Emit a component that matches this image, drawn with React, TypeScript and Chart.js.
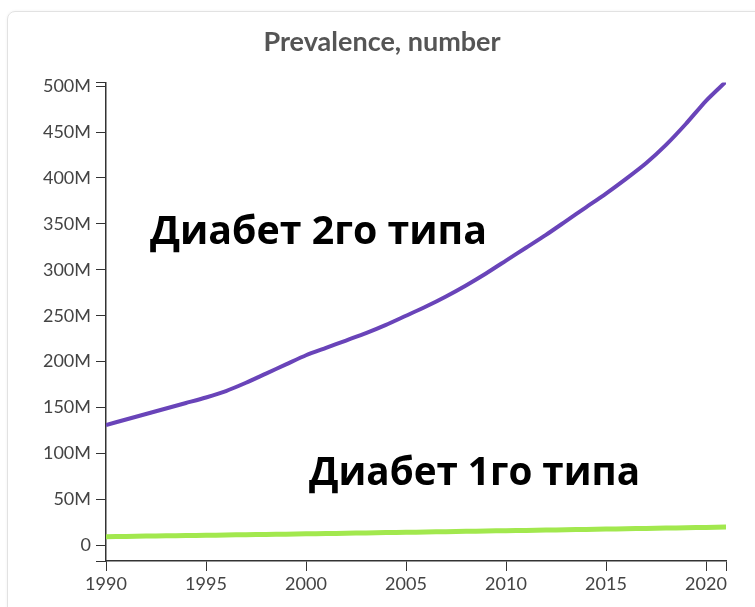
import React, { useEffect, useRef } from "react";
import { Chart, registerables } from "chart.js";

Chart.register(...registerables);

const titleText = "Prevalence, number";
const years = [
  1990, 1991, 1992, 1993, 1994, 1995, 1996, 1997, 1998, 1999, 2000, 2001, 2002, 2003, 2004, 2005,
  2006, 2007, 2008, 2009, 2010, 2011, 2012, 2013, 2014, 2015, 2016, 2017, 2018, 2019, 2020, 2021,
];
// millions
const type2Values = [
  131, 137, 143, 149, 155, 161, 168, 177, 187, 197, 207, 215, 223, 231, 240, 250,
  260, 271, 283, 296, 310, 324, 338, 353, 368, 383, 399, 416, 436, 459, 484, 505,
];
const type1Values = [
  9.5, 9.8, 10.1, 10.4, 10.7, 11.0, 11.3, 11.6, 11.9, 12.2, 12.6, 12.9, 13.2, 13.5, 13.9, 14.2,
  14.6, 14.9, 15.3, 15.6, 16.0, 16.3, 16.7, 17.0, 17.4, 17.7, 18.1, 18.4, 18.8, 19.2, 19.6, 20.0,
];
const yTickValues = [0, 50, 100, 150, 200, 250, 300, 350, 400, 450, 500];
const yTickLabels = ["0", "50M", "100M", "150M", "200M", "250M", "300M", "350M", "400M", "450M", "500M"];
const xTickValues = [1990, 1995, 2000, 2005, 2010, 2015, 2020];
const xTickLabels = ["1990", "1995", "2000", "2005", "2010", "2015", "2020"];
const yMin = -17;
const yMax = 504;
const xMin = 1990;
const xMax = 2021;
const label2 = "Диабет 2го типа";
const label1 = "Диабет 1го типа";

const annotationPlugin = {
  id: "annot",
  afterDatasetsDraw(chart: any) {
    const ctx = chart.ctx;
    const items = [
      { text: label2, left: 150, baseline: 244, width: 337 },
      { text: label1, left: 309, baseline: 485, width: 331 },
    ];
    ctx.save();
    ctx.fillStyle = "#000";
    ctx.textBaseline = "alphabetic";
    ctx.textAlign = "left";
    for (const it of items) {
      ctx.font = "bold 100px 'Open Sans'";
      const w = ctx.measureText(it.text).width;
      const size = (100 * it.width) / w;
      ctx.font = `bold ${size.toFixed(2)}px 'Open Sans'`;
      ctx.fillText(it.text, it.left, it.baseline);
    }
    ctx.restore();
  },
};

export default function App() {
  const ref = useRef<HTMLCanvasElement | null>(null);
  useEffect(() => {
    if (!ref.current) return;
    const tickFont = { family: "Lato", size: 18 };
    const chart = new Chart(ref.current, {
      type: "line",
      data: {
        datasets: [
          {
            label: "Type 2",
            data: years.map((y, i) => ({ x: y, y: type2Values[i] })),
            borderColor: "#6944b9",
            borderWidth: 4,
            pointRadius: 0,
            tension: 0.2,
            fill: false,
          },
          {
            label: "Type 1",
            data: years.map((y, i) => ({ x: y, y: type1Values[i] })),
            borderColor: "#a2e84e",
            borderWidth: 5,
            pointRadius: 0,
            tension: 0.2,
            fill: false,
          },
        ],
      },
      options: {
        animation: false,
        responsive: false,
        maintainAspectRatio: false,
        layout: { padding: { left: 38, right: 29, top: 0, bottom: 0 } },
        plugins: {
          legend: { display: false },
          tooltip: { enabled: false },
          title: {
            display: true,
            text: titleText,
            color: "#555",
            font: { family: "Lato", size: 27, weight: "bold" },
            padding: { top: 26, bottom: 24 },
          },
        },
        scales: {
          x: {
            type: "linear",
            min: xMin,
            max: xMax,
            afterBuildTicks: (scale: any) => {
              scale.ticks = [...xTickValues.map((v) => ({ value: v })), { value: xMax }];
            },
            afterFit: (scale: any) => {
              scale.height = 46;
            },
            grid: { display: true, drawOnChartArea: false, drawTicks: true, tickLength: 10, color: "#333" },
            border: { display: true, color: "#333", width: 1.5 },
            ticks: {
              autoSkip: false,
              maxRotation: 0,
              padding: 2,
              color: "#444",
              font: tickFont,
              callback: (v: any) => {
                const i = xTickValues.indexOf(Number(v));
                return i >= 0 ? xTickLabels[i] : "";
              },
            },
          },
          y: {
            type: "linear",
            min: yMin,
            max: yMax,
            afterBuildTicks: (scale: any) => {
              scale.ticks = [{ value: yMin }, ...yTickValues.map((v) => ({ value: v })), { value: yMax }];
            },
            afterFit: (scale: any) => {
              scale.width = 68;
            },
            grid: { display: true, drawOnChartArea: false, drawTicks: true, tickLength: 10, color: "#333" },
            border: { display: true, color: "#333", width: 1.5 },
            ticks: {
              autoSkip: false,
              padding: 5,
              color: "#444",
              font: tickFont,
              callback: (v: any) => {
                const i = yTickValues.indexOf(Number(v));
                return i >= 0 ? yTickLabels[i] : "";
              },
            },
          },
        },
      },
      plugins: [annotationPlugin],
    } as any);
    return () => chart.destroy();
  }, []);

  return (
    <div
      style={{
        position: "fixed",
        left: 0,
        top: 0,
        width: 755,
        height: 607,
        overflow: "hidden",
        background: "#fff",
      }}
    >
      <div
        style={{
          position: "absolute",
          left: 7,
          top: 11,
          width: 770,
          height: 620,
          border: "1px solid #e2e2e2",
          borderRadius: 8,
          boxShadow: "0 0 3px rgba(0,0,0,0.06)",
        }}
      />
      <canvas ref={ref} width={755} height={607} style={{ position: "absolute", left: 0, top: 0 }} />
    </div>
  );
}
